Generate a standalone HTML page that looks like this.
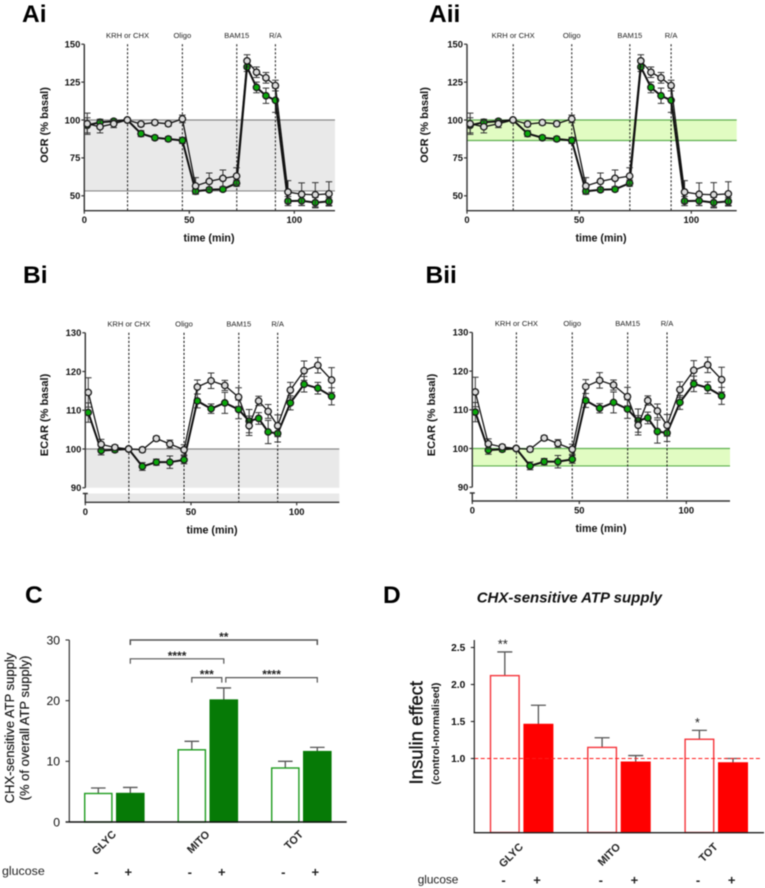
<!DOCTYPE html>
<html lang="en">
<head>
<meta charset="utf-8">
<title>Respiration and ATP supply figure</title>
<style>
html,body{margin:0;padding:0;background:#fff;width:765px;height:888px;overflow:hidden}
svg{display:block;filter:blur(0.45px);font-family:"Liberation Sans",sans-serif}
.head{font-size:24.5px;font-weight:bold;fill:#000}
</style>
</head>
<body>
<svg id="fig" xmlns="http://www.w3.org/2000/svg" width="765" height="888" viewBox="0 0 765 888">
<rect width="765" height="888" fill="#fff"/>
<text class="head" x="22" y="22">Ai</text>
<text class="head" x="429" y="22">Aii</text>
<text class="head" x="23" y="283">Bi</text>
<text class="head" x="425.5" y="283">Bii</text>
<text class="head" x="25" y="603">C</text>
<text class="head" x="383" y="603">D</text>
<text x="476.7" y="602.5" font-size="15" font-weight="bold" font-style="italic" fill="#111">CHX-sensitive ATP supply</text>
</svg>
<script>
// ---------- time-course data ----------
const timeMin = [1.4,7.5,14,20.5,27,33.6,40,46.7,53,59.5,66,72.5,77.5,82,86.5,91,97,103.5,110,116.5];
const eventTimes = [20.6,46.7,72.6,91];
const eventLabels = ['KRH or CHX','Oligo','BAM15','R/A'];
const ocrGrey = [97.5,95.5,97.5,100,97.3,98.3,97.5,100.7,56.5,59.5,61.5,63,139,131.5,127.8,122.7,52.5,51,50.7,51.3];
const ocrGreyErr = [7,4,2.5,0.5,1.5,1.5,1.5,2.5,5.5,5.5,5.5,5.5,4,3.5,3.5,3.5,7.5,7.5,8,8];
const ocrGreen = [96.5,98.5,99.2,100,91,88.3,87.5,86.5,53,54,54.3,58.3,135,121.5,116,113,46.5,46.7,45.5,46.3];
const ocrGreenErr = [5,2,1.5,0.5,2,1.5,1.5,2,1.5,1.5,1.5,2,3,3.5,5,8,3,3,3.5,2.5];
const ecarGrey = [114.6,101.2,100.4,100,99.8,102.7,101.3,99.8,116,117.6,116.4,113.4,106,112.4,109.7,106,115.2,120.2,121.6,117.8];
const ecarGreyErr = [3.8,1.3,0.6,0.3,0.6,0.6,1,1.3,1.8,2,1.3,2.4,2.5,1.2,1.8,2.8,2,2.5,2,3.2];
const ecarGreen = [109.4,99.6,99.8,100,95.5,96.6,96.6,97.2,112.4,110.4,111.9,110.2,107.2,107.9,104.4,104,111.9,116.7,115.7,113.6];
const ecarGreenErr = [2.5,1.1,0.6,0.3,1,0.8,1.6,1,1.8,1.2,2.7,2.4,3,1.5,3,2.2,1.8,2,1.5,2.2];
const timeTicks = [0,50,100];
const ocrTicks = [50,75,100,125,150];
const ecarTicks = [90,100,110,120,130];
// ---------- bar data ----------
const barGroups = ['GLYC','MITO','TOT'];
const glucoseSigns = ['-','+','-','+','-','+'];
const cValues = [4.7,4.7,11.9,20.1,8.9,11.6];
const cErrors = [0.9,1.0,1.4,2.0,1.1,0.7];
const cTicks = [0,10,20,30];
const dValues = [2.12,1.46,1.15,0.95,1.26,0.94];
const dErrors = [0.32,0.26,0.13,0.09,0.12,0.06];
const dTicks = ['1.0','1.5','2.0','2.5'];
const dStars = ['**','','','','*',''];

const svg = document.getElementById('fig');
const NS = 'http://www.w3.org/2000/svg';
function mk(parent, tag, attrs, txt){
  const e = document.createElementNS(NS, tag);
  for (const k in attrs) e.setAttribute(k, attrs[k]);
  if (txt !== undefined) e.textContent = txt;
  parent.appendChild(e);
  return e;
}

function lineChart(name, c, grey, greyErr, green, greenErr, ticks, yTitle){
  const x = t => c.x0 + t * c.xs;
  const y = v => c.y100 - (v - 100) * c.ys;
  const g = mk(svg, 'g', {});
  
  
  const xEnd = c.xEnd, top = y(ticks[ticks.length-1]), bottom = c.bottom;

  // shaded band
  const band = mk(g, 'rect', {x:x(0), y:y(100), width:xEnd-x(0), height:y(c.bandLo)-y(100), fill:c.bandFill});
  
  
  if (c.lowerBand){
    const low = mk(g, 'rect', {x:x(0), y:c.breakY, width:xEnd-x(0), height:bottom-c.breakY, fill:c.bandFill});
    
    
  }
  const edges = c.lowerBand ? [100] : [100, c.bandLo];
  edges.forEach(v => {
    const l = mk(g, 'line', {x1:x(0), x2:xEnd, y1:y(v), y2:y(v), stroke:c.bandLine, 'stroke-width':1.2});
    
    
  });

  // event markers
  eventTimes.forEach((t, i) => {
    const l = mk(g, 'line', {x1:x(t), x2:x(t), y1:top, y2:bottom, stroke:'#111', 'stroke-width':1, 'stroke-dasharray':'2.2 1.8'});
    
    
    const lb = mk(g, 'text', {x:x(t), y:top-6.3, 'text-anchor':'middle', 'font-size':7.6, fill:'#222'}, eventLabels[i]);
    
    
  });

  // series
  const series = [[green, greenErr, '#0aa80a', 2, 'green-series'], [grey, greyErr, '#dcdcdc', 1.3, 'grey-series']];
  series.forEach(s => {
    const vals = s[0], errs = s[1];
    const sg = mk(g, 'g', {});
    
    
    vals.forEach((v, i) => {
      const bar = mk(sg, 'path', {d:`M${x(timeMin[i])-3.3} ${y(v+errs[i])}h6.6M${x(timeMin[i])} ${y(v+errs[i])}V${y(v-errs[i])}M${x(timeMin[i])-3.3} ${y(v-errs[i])}h6.6`, stroke:'#333', 'stroke-width':1, fill:'none'});
      
      
    });
    const pl = mk(sg, 'polyline', {points:vals.map((v, i) => x(timeMin[i]) + ',' + y(v)).join(' '), fill:'none', stroke:'#111', 'stroke-width':s[3]});
    
    
    vals.forEach((v, i) => {
      const p = mk(sg, 'circle', {cx:x(timeMin[i]), cy:y(v), r:3.2, fill:s[2], stroke:'#1a1a1a', 'stroke-width':1.3});
      
      
    });
  });

  // axes
  const axisBottom = c.breakY ? y(ticks[0]) : bottom;
  const ya = mk(g, 'line', {x1:x(0), x2:x(0), y1:top, y2:axisBottom, stroke:'#333', 'stroke-width':1.4});
  
  
  if (c.breakY){
    const yb = mk(g, 'path', {d:`M${x(0)-2.5} ${c.breakY}h5M${x(0)} ${c.breakY}V${bottom}`, stroke:'#333', 'stroke-width':1.4, fill:'none'});
    
    
  }
  const xa = mk(g, 'line', {x1:x(0)-0.7, x2:xEnd, y1:bottom, y2:bottom, stroke:'#333', 'stroke-width':1.4});
  
  
  ticks.forEach(v => {
    const t = mk(g, 'line', {x1:x(0)-3, x2:x(0), y1:y(v), y2:y(v), stroke:'#333', 'stroke-width':1.2});
    
    
    const tl = mk(g, 'text', {x:x(0)-4, y:y(v)+3.3, 'text-anchor':'end', 'font-size':9.4, 'font-weight':'bold', fill:'#111'}, v);
    
    
  });
  timeTicks.forEach(v => {
    const t = mk(g, 'line', {x1:x(v), x2:x(v), y1:bottom, y2:bottom+3, stroke:'#333', 'stroke-width':1.2});
    
    
    const tl = mk(g, 'text', {x:x(v), y:bottom+12.5, 'text-anchor':'middle', 'font-size':9.4, 'font-weight':'bold', fill:'#111'}, v);
    
    
  });
  const xt = mk(g, 'text', {x:c.xTitleX, y:bottom+31, 'text-anchor':'middle', 'font-size':10.7, 'font-weight':'bold', fill:'#111'}, 'time (min)');
  
  
  const yt = mk(g, 'text', {transform:`translate(${c.yTitleX} ${c.yTitleY}) rotate(-90)`, 'text-anchor':'middle', 'font-size':11, 'font-weight':'bold', fill:'#111'}, yTitle);
  
  
}

lineChart('panel-ai-ocr-chart', {x0:84.3, xs:2.1, xEnd:335, y100:120, ys:1.516, bottom:210.7, bandLo:53.2, bandFill:'#e9e9e9', bandLine:'#8a8a8a', xTitleX:209, yTitleX:48, yTitleY:125}, ocrGrey, ocrGreyErr, ocrGreen, ocrGreenErr, ocrTicks, 'OCR (% basal)');
lineChart('panel-aii-ocr-chart', {x0:467, xs:2.243, xEnd:736.7, y100:120, ys:1.516, bottom:210.7, bandLo:86.5, bandFill:'#e1fcc2', bandLine:'#5fb04f', xTitleX:601, yTitleX:428, yTitleY:125}, ocrGrey, ocrGreyErr, ocrGreen, ocrGreenErr, ocrTicks, 'OCR (% basal)');
lineChart('panel-bi-ecar-chart', {x0:85.3, xs:2.114, xEnd:339.3, y100:449, ys:3.875, bottom:502.3, breakY:493.5, lowerBand:true, bandLo:90, bandFill:'#e9e9e9', bandLine:'#8a8a8a', xTitleX:212, yTitleX:48, yTitleY:415}, ecarGrey, ecarGreyErr, ecarGreen, ecarGreenErr, ecarTicks, 'ECAR (% basal)');
lineChart('panel-bii-ecar-chart', {x0:472.3, xs:2.14, xEnd:730, y100:448.5, ys:3.87, bottom:501, breakY:493, bandLo:95.5, bandFill:'#e1fcc2', bandLine:'#5fb04f', xTitleX:601, yTitleX:435, yTitleY:415}, ecarGrey, ecarGreyErr, ecarGreen, ecarGreenErr, ecarTicks, 'ECAR (% basal)');

// ---------- panel C ----------
(function(){
  const y = v => 822 - v * 6.067;
  const cx = i => 98.3 + 93.5 * Math.floor(i / 2) + 32 * (i % 2);
  const g = mk(svg, 'g', {});
  
  
  cValues.forEach((v, i) => {
    const e = mk(g, 'path', {d:`M${cx(i)} ${y(v)}V${y(v+cErrors[i])}M${cx(i)-7.3} ${y(v+cErrors[i])}h14.6`, stroke:'#555', 'stroke-width':1.3, fill:'none'});
    
    
    const filled = i % 2 === 1;
    const b = mk(g, 'rect', {x:cx(i)-13.6, y:y(v), width:27.2, height:822-y(v), fill:filled?'#067a06':'#fff', stroke:filled?'#067a06':'#1f9c1f', 'stroke-width':1.4});
    
    
    const s = mk(g, 'text', {x:cx(i)-2, y:876.5, 'text-anchor':'middle', 'font-size':13, 'font-weight':'bold', fill:'#222'}, glucoseSigns[i]);
    
    
  });
  const ya = mk(g, 'line', {x1:69.3, x2:69.3, y1:y(30), y2:822, stroke:'#333', 'stroke-width':1.2});
  
  
  const xa = mk(g, 'line', {x1:65.7, x2:346.7, y1:822, y2:822, stroke:'#111', 'stroke-width':1.4});
  
  
  cTicks.forEach(v => {
    const t = mk(g, 'line', {x1:65.5, x2:69.3, y1:y(v), y2:y(v), stroke:'#333', 'stroke-width':1.1});
    
    
    const tl = mk(g, 'text', {x:60, y:y(v)+4.3, 'text-anchor':'end', 'font-size':12.2, fill:'#111'}, v);
    
    
  });
  barGroups.forEach((n, i) => {
    const l = mk(g, 'text', {transform:`translate(${cx(i*2)+18.5} 835) rotate(-45)`, 'text-anchor':'end', 'font-size':10.8, 'font-weight':'bold', fill:'#222'}, n);
    
    
  });
  const t1 = mk(g, 'text', {transform:'translate(14 728) rotate(-90)', 'text-anchor':'middle', 'font-size':13, fill:'#111', stroke:'#111', 'stroke-width':0.15}, 'CHX-sensitive ATP supply');
  
  
  const t2 = mk(g, 'text', {transform:'translate(29 728) rotate(-90)', 'text-anchor':'middle', 'font-size':13, fill:'#111', stroke:'#111', 'stroke-width':0.15}, '(% of overall ATP supply)');
  
  
  const gl = mk(g, 'text', {x:2, y:875, 'font-size':12.4, fill:'#222'}, 'glucose');
  
  

  // significance brackets
  function bracket(a, b, level, stars, strokeW){
    const yy = y(level);
    const p = mk(g, 'path', {d:`M${a} ${yy+5}V${yy}H${b}V${yy+5}`, fill:'none', stroke:'#555', 'stroke-width':strokeW});
    
    
    const st = mk(g, 'text', {x:(a+b)/2, y:yy+1, 'text-anchor':'middle', 'font-size':12, 'font-weight':'bold', fill:'#222'}, stars);
    
    
  }
  bracket(cx(1), cx(5), 30, '**', 1.5);
  bracket(cx(1), cx(3), 26.9, '****', 1.2);
  bracket(cx(2), cx(3)-2, 23.8, '***', 1.2);
  bracket(cx(3)+2, cx(5), 23.8, '****', 1.2);
})();

// ---------- panel D ----------
(function(){
  const y = v => 832.5 - v * 74;
  const cx = i => 504.8 + 97.3 * Math.floor(i / 2) + 33.6 * (i % 2);
  const g = mk(svg, 'g', {});
  
  
  dValues.forEach((v, i) => {
    const e = mk(g, 'path', {d:`M${cx(i)} ${y(v)}V${y(v+dErrors[i])}M${cx(i)-7.5} ${y(v+dErrors[i])}h15`, stroke:'#555', 'stroke-width':1.3, fill:'none'});
    
    
    const filled = i % 2 === 1;
    const b = mk(g, 'rect', {x:cx(i)-14.3, y:y(v), width:28.6, height:832.5-y(v), fill:filled?'#ff0000':'#fff', stroke:filled?'#ff0000':'#f5343a', 'stroke-width':1.4});
    
    
    const s = mk(g, 'text', {x:cx(i)-1.3, y:884.5, 'text-anchor':'middle', 'font-size':13, 'font-weight':'bold', fill:'#222'}, glucoseSigns[i]);
    
    
    if (dStars[i]){
      const st = mk(g, 'text', {x:cx(i)-2, y:y(v+dErrors[i])-3.5, 'text-anchor':'middle', 'font-size':13, fill:'#222'}, dStars[i]);
      
      
    }
  });
  const ref = mk(g, 'line', {x1:474.3, x2:761, y1:y(1), y2:y(1), stroke:'#ff1a1a', 'stroke-width':1, 'stroke-dasharray':'4 2.4'});
  
  
  const ya = mk(g, 'line', {x1:474.3, x2:474.3, y1:640, y2:833, stroke:'#222', 'stroke-width':1.2});
  
  
  const xa = mk(g, 'line', {x1:473.7, x2:764, y1:832.7, y2:832.7, stroke:'#222', 'stroke-width':1.3});
  
  
  dTicks.forEach(v => {
    const t = mk(g, 'line', {x1:470.8, x2:474.3, y1:y(+v), y2:y(+v), stroke:'#222', 'stroke-width':1.1});
    
    
    const tl = mk(g, 'text', {x:465.3, y:y(+v)+3.6, 'text-anchor':'end', 'font-size':10.2, 'font-weight':'bold', fill:'#111'}, v);
    
    
  });
  barGroups.forEach((n, i) => {
    const l = mk(g, 'text', {transform:`translate(${cx(i*2)+19} 847.5) rotate(-45)`, 'text-anchor':'end', 'font-size':10.8, 'font-weight':'bold', fill:'#222'}, n);
    
    
  });
  const t1 = mk(g, 'text', {transform:'translate(422.7 732.7) rotate(-90)', 'text-anchor':'middle', 'font-size':18.5, fill:'#111', stroke:'#111', 'stroke-width':0.35}, 'Insulin effect');
  
  
  const t2 = mk(g, 'text', {transform:'translate(438.8 733.7) rotate(-90)', 'text-anchor':'middle', 'font-size':10.5, 'font-weight':'bold', fill:'#111'}, '(control-normalised)');
  
  
  const gl = mk(g, 'text', {x:417.7, y:883.7, 'font-size':11.8, fill:'#222'}, 'glucose');
  
  
})();
</script>
</body>
</html>
